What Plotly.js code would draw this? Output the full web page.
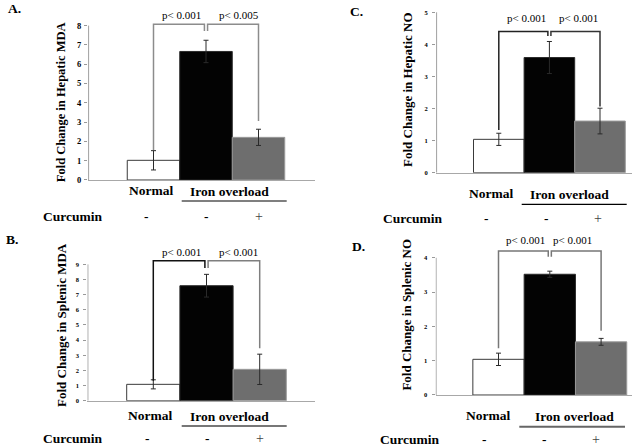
<!DOCTYPE html>
<html><head><meta charset="utf-8">
<script src="https://cdn.plot.ly/plotly-3.0.1.min.js"></script>
<style>html,body{margin:0;padding:0;background:#fff}#chart{width:633px;height:447px}</style>
</head><body><div id="chart"></div>
<script>
// ---------------- data ----------------
const categories = ['Normal', 'Iron overload', 'Iron overload + Curcumin'];
const groupLabels = ['Normal', 'Iron overload'];
const curcuminLabel = 'Curcumin';
const curcuminSigns = ['-', '-', '+'];
const panelLetters = ['A.', 'B.', 'C.', 'D.'];
const yTitles = ['Fold Change in Hepatic MDA', 'Fold Change in Splenic MDA',
                 'Fold Change in Hepatic NO', 'Fold Change in Splenic NO'];
const yTickMax = [8, 9, 5, 4];

const hepaticMDA = [1.02, 6.66, 2.21];
const hepaticMDAErr = [0.50, 0.58, 0.42];
const splenicMDA = [1.08, 7.59, 2.07];
const splenicMDAErr = [0.30, 0.75, 1.00];
const hepaticNO = [1.04, 3.59, 1.61];
const hepaticNOErr = [0.19, 0.50, 0.40];
const splenicNO = [1.04, 3.52, 1.55];
const splenicNOErr = [0.18, 0.09, 0.10];

const pLabelsA = ['p< 0.001', 'p< 0.005'];
const pLabelsB = ['p< 0.001', 'p< 0.001'];
const pLabelsC = ['p< 0.001', 'p< 0.001'];
const pLabelsD = ['p< 0.001', 'p< 0.001'];

// bracket legs (foot under each bar) and bracket top, in data units
const bracketFeetA = [1.55, 7.72, 3.06], bracketTopA = 8.07;
const bracketFeetB = [1.32, 8.76, 3.46], bracketTopB = 9.24;
const bracketFeetC = [1.33, 4.26, 2.06], bracketTopC = 4.40;
const bracketFeetD = [1.36, 4.03, 1.87], bracketTopD = 4.20;

// ---------------- layout geometry (px) ----------------
const W = 633, H = 447;
const SERIF = 'Liberation Serif, Times New Roman, serif';
const panels = [
  {vals: hepaticMDA, errs: hepaticMDAErr, feet: bracketFeetA, btop: bracketTopA, p: pLabelsA,
   axL: 88, axR: 315, c0: 153.5, u: 52.5, zero: 180, upx: 19.3, top: 8.15,
   tickSize: 8.5, tickStand: 1, brCol: ['#8c8c8c', '#8c8c8c'],
   letter: [14, 9], title: [60.7, 102.5, 12.5], pPos: [[181, 15], [239, 15]],
   normal: [150.8, 190], iron: [229, 191], uline: [181.7, 286.7, 201, '#000', 1.2],
   cur: [73, 216], signs: [146.7, 206.7, 259.3], signY: 216},
  {vals: splenicMDA, errs: splenicMDAErr, feet: bracketFeetB, btop: bracketTopB, p: pLabelsB,
   axL: 87.3, axR: 315, c0: 153.3, u: 53.2, zero: 400.7, upx: 15.15, top: 9.3,
   tickSize: 6.5, tickStand: 3, brCol: ['#111', '#7f7f7f'],
   letter: [12, 239], title: [61, 325, 13], pPos: [[181.3, 251.7], [239, 251.7]],
   normal: [150, 415.7], iron: [229, 416.7], uline: [181.7, 286.7, 426, '#777', 2],
   cur: [72.5, 438.5], signs: [147, 207, 259.7], signY: 438.5},
  {vals: hepaticNO, errs: hepaticNOErr, feet: bracketFeetC, btop: bracketTopC, p: pLabelsC,
   axL: 436, axR: 632, c0: 498.8, u: 50.6, zero: 172.7, upx: 32.08, top: 5.03,
   tickSize: 6.5, tickStand: 3, brCol: ['#222', '#333'],
   letter: [356.7, 11], title: [408, 90, 13], pPos: [[526.7, 18.3], [578, 18.3]],
   normal: [490.8, 193.3], iron: [569, 194.3], uline: [521.7, 626.7, 204.3, '#000', 1.2],
   cur: [412.5, 218.3], signs: [486.7, 546.7, 598.3], signY: 218.5},
  {vals: splenicNO, errs: splenicNOErr, feet: bracketFeetD, btop: bracketTopD, p: pLabelsD,
   axL: 435.5, axR: 632, c0: 498.5, u: 51.3, zero: 395, upx: 34.3, top: 4.25,
   tickSize: 6.5, tickStand: 3, brCol: ['#777', '#777'],
   letter: [358.3, 246], title: [407, 314.6, 13], pPos: [[525.7, 240], [572.3, 240]],
   normal: [488.3, 415.7], iron: [574.5, 416.7], uline: [519.3, 625, 426.7, '#666', 2],
   cur: [410.3, 439], signs: [484, 544, 596], signY: 439}
];

const px = v => v / W;
const py = v => 1 - v / H;

const traces = [];
const layout = {
  width: W, height: H, margin: {l: 0, r: 0, t: 0, b: 0},
  paper_bgcolor: '#fff', plot_bgcolor: 'rgba(0,0,0,0)',
  showlegend: false, bargap: 0, barmode: 'group',
  annotations: [], shapes: []
};

function ann(x, y, text, size, extra) {
  return Object.assign({xref: 'paper', yref: 'paper', x: px(x), y: py(y), text: text,
    showarrow: false, xanchor: 'center', yanchor: 'middle', borderpad: 0,
    font: {family: SERIF, size: size, color: '#000'}}, extra || {});
}

panels.forEach((g, i) => {
  const n = i === 0 ? '' : String(i + 1);
  const xa = 'x' + n, ya = 'y' + n;
  const xmin = (g.axL - g.c0) / g.u, xmax = (g.axR - g.c0) / g.u;
  const xs = categories.map((c, k) => k);

  layout['xaxis' + n] = {
    domain: [px(g.axL), px(g.axR)], range: [xmin, xmax], anchor: ya,
    showline: true, linecolor: '#a8a8a8', linewidth: 1, ticks: '', showticklabels: false,
    showgrid: false, zeroline: false, fixedrange: true
  };
  layout['yaxis' + n] = {
    domain: [py(g.zero), py(g.zero - g.top * g.upx)], range: [0, g.top], anchor: xa,
    tickvals: Array.from({length: yTickMax[i] + 1}, (_, k) => k),
    ticks: 'outside', ticklen: 3, tickcolor: '#999', tickwidth: 1,
    ticklabelstandoff: g.tickStand,
    tickfont: {family: SERIF, size: g.tickSize, color: '#000', weight: 'bold'},
    showline: false, showgrid: false, zeroline: false, fixedrange: true
  };

  // y axis line from 0 to the top tick
  layout.shapes.push({type: 'line', xref: xa, yref: ya,
    x0: xmin + 0.6 / g.u, x1: xmin + 0.6 / g.u, y0: 0, y1: yTickMax[i],
    line: {color: '#a0a0a0', width: 1}, layer: 'above'});

  traces.push({
    type: 'bar', x: xs, y: g.vals, width: 1, xaxis: xa, yaxis: ya,
    marker: {color: ['#ffffff', '#030303', '#6e6e6e'],
             line: {color: ['#3a3a3a', '#2a2a2a', '#9a9a9a'], width: 1}},
    error_y: {type: 'data', array: g.errs, visible: true, color: '#2a2a2a', thickness: 1, width: 2.5},
    hoverinfo: 'skip'
  });

  const d = 0.03;
  traces.push({type: 'scatter', mode: 'lines', xaxis: xa, yaxis: ya, hoverinfo: 'skip',
    x: [xs[0], xs[0], xs[1] - d, xs[1] - d], y: [g.feet[0], g.btop, g.btop, g.feet[1]],
    line: {color: g.brCol[0], width: 1.5}});
  traces.push({type: 'scatter', mode: 'lines', xaxis: xa, yaxis: ya, hoverinfo: 'skip',
    x: [xs[1] + d, xs[1] + d, xs[2], xs[2]], y: [g.feet[1], g.btop, g.btop, g.feet[2]],
    line: {color: g.brCol[1], width: 1.5}});

  // texts
  layout.annotations.push(ann(g.letter[0], g.letter[1], '<b>' + panelLetters[i] + '</b>', 13.5));
  layout.annotations.push(ann(g.title[0], g.title[1], '<b>' + yTitles[i] + '</b>', g.title[2], {textangle: -90}));
  g.p.forEach((t, k) => layout.annotations.push(ann(g.pPos[k][0], g.pPos[k][1], t, 11)));
  layout.annotations.push(ann(g.normal[0], g.normal[1], '<b>' + groupLabels[0] + '</b>', 13.5));
  layout.annotations.push(ann(g.iron[0], g.iron[1], '<b>' + groupLabels[1] + '</b>', 13.5));
  layout.annotations.push(ann(g.cur[0], g.cur[1], '<b>' + curcuminLabel + '</b>', 13.5));
  curcuminSigns.forEach((s, k) => layout.annotations.push(
    ann(g.signs[k], g.signY, s === '+' ? s : '<b>' + s + '</b>', 13.5,
        s === '+' ? {font: {family: SERIF, size: 14, color: '#444'}} : {})));
  layout.shapes.push({type: 'line', xref: 'paper', yref: 'paper',
    x0: px(g.uline[0]), x1: px(g.uline[1]), y0: py(g.uline[2]), y1: py(g.uline[2]),
    line: {color: g.uline[3], width: g.uline[4]}});
});

Plotly.newPlot('chart', traces, layout, {staticPlot: true, displayModeBar: false});
</script>
</body></html>
